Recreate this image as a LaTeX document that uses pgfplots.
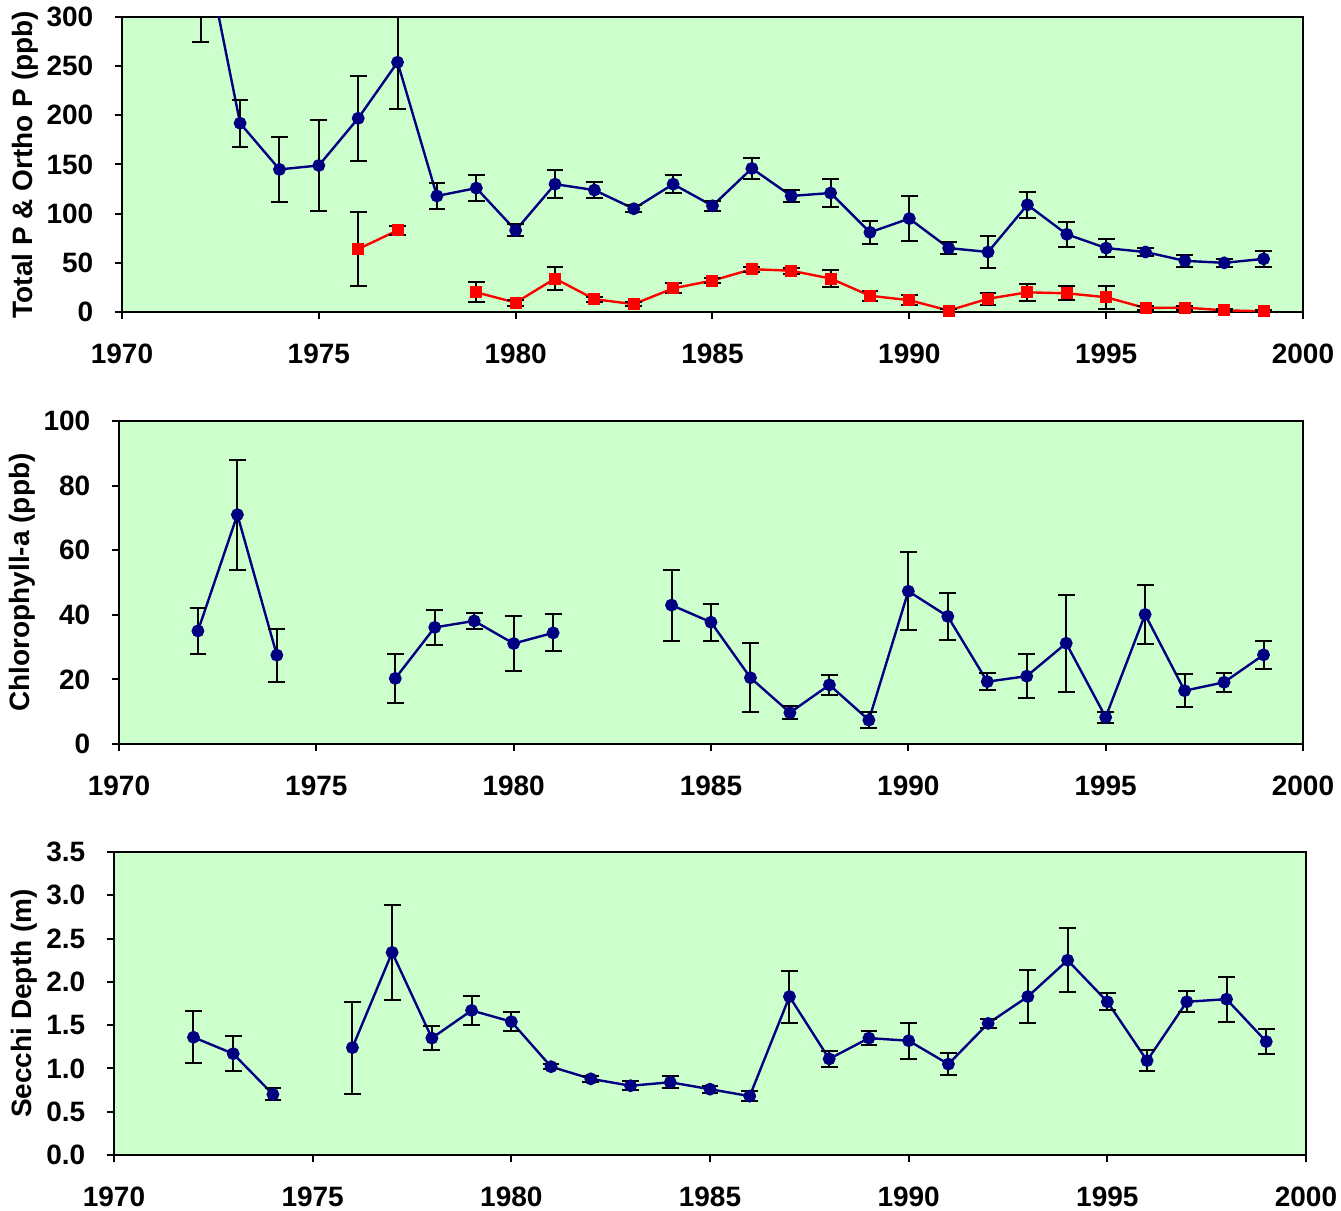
\documentclass[border=0pt]{standalone}
\usepackage{fontspec}
\setmainfont{Liberation Sans}
\usepackage{pgfplots}
\usepackage{pgfplotstable}
\pgfplotsset{compat=1.18}

\definecolor{plotbg}{HTML}{CCFFCC}
\definecolor{navyline}{HTML}{000080}
\definecolor{orthored}{HTML}{FF0000}

% Total phosphorus (ppb), annual mean and error
\pgfplotstableread{
year v e
1972 392 117
1973 192 24
1974 145 33
1975 149 46
1976 197 43
1977 254 48
1978 118 13
1979 126 13
1980 83 6
1981 130 14.5
1982 124 8
1983 105 3.5
1984 130 9
1985 108 5
1986 146 11
1987 118 6
1988 121 14.5
1989 81 12
1990 95 22.5
1991 65 6.5
1992 61 16
1993 109 13
1994 79 12.5
1995 65 9
1996 61 4
1997 52 6
1998 50 4.3
1999 54 7.8
}\totalp

% Ortho phosphorus (ppb)
\pgfplotstableread{
year v e
1976 64 38
1977 83 4.5
}\orthoA
\pgfplotstableread{
year v e
1979 20 10
1980 9.5 3
1981 34 12
1982 13 2.5
1983 8 2
1984 24 5
1985 32 3
1986 43.5 2.5
1987 42 3
1988 34 8.5
1989 16.5 5
1990 12 5
1991 1.5 1.5
1992 13.5 6.3
1993 20 8.7
1994 19 7.3
1995 15 11.5
1996 4 2
1997 4.5 2
1998 1.7 1
1999 0.7 1
}\orthoB

% Chlorophyll-a (ppb)
\pgfplotstableread{
year v e
1972 35 7.2
1973 71 17
1974 27.5 8.2
}\chlA
\pgfplotstableread{
year v e
1977 20.3 7.7
1978 36.1 5.3
1979 38.1 2.4
1980 31.1 8.5
1981 34.4 5.7
}\chlB
\pgfplotstableread{
year v e
1984 43 11
1985 37.7 5.7
1986 20.5 10.7
1987 9.7 2
1988 18.3 3
1989 7.4 2.6
1990 47.3 12
1991 39.5 7.4
1992 19.3 2.6
1993 21 6.8
1994 31.2 15
1995 8.3 1.7
1996 40.1 9.2
1997 16.5 5.2
1998 19.1 2.9
1999 27.6 4.3
}\chlC

% Secchi depth (m)
\pgfplotstableread{
year v e
1972 1.36 0.30
1973 1.17 0.20
1974 0.70 0.07
}\secA
\pgfplotstableread{
year v e
1976 1.24 0.53
1977 2.34 0.55
1978 1.35 0.14
1979 1.67 0.165
1980 1.54 0.11
1981 1.02 0.03
1982 0.88 0.035
1983 0.80 0.05
1984 0.84 0.07
1985 0.76 0.04
1986 0.68 0.06
1987 1.83 0.30
1988 1.11 0.09
1989 1.35 0.085
1990 1.32 0.21
1991 1.05 0.13
1992 1.52 0.05
1993 1.83 0.31
1994 2.25 0.37
1995 1.77 0.10
1996 1.09 0.12
1997 1.77 0.12
1998 1.80 0.26
1999 1.31 0.145
}\secB

\pgfplotsset{
  panel/.style={
    scale only axis,
    anchor=south west,
    axis background/.style={fill=plotbg},
    axis line style={line width=1.3pt},
    xmin=1970, xmax=2000,
    xtick={1970,1975,...,2000},
    tick pos=left,
    tick align=outside,
    major tick length=3.5pt,
    every tick/.style={black, line width=1pt},
    minor tick num=0,
    /pgf/number format/assume math mode=true,
    /pgf/number format/1000 sep={},
    xticklabel style={anchor=center, yshift=-17.5pt},
    yticklabel style={anchor=east, xshift=-6pt},
    clip=true,
  },
  series/.style={
    line width=1.2pt,
    error bars/y dir=both,
    error bars/y explicit,
    error bars/error bar style={black, line width=1pt, solid},
    error bars/error mark options={rotate=90, black, mark size=4.2pt, line width=1pt},
  },
  tp/.style={series, color=navyline, mark=*, mark size=2.6pt,
    mark options={fill=navyline, draw=navyline, solid}},
  op/.style={series, color=orthored, mark=square*, mark size=2.4pt,
    mark options={fill=orthored, draw=orthored, solid}},
}

\begin{document}
\fontsize{14}{16.8}\selectfont\bfseries
\begin{tikzpicture}
\useasboundingbox (0,0) rectangle (670.5pt,605.5pt);

% Phosphorus
\begin{axis}[panel,
  at={(61pt,449.5pt)}, width=590.5pt, height=147.5pt,
  ymin=0, ymax=300, ytick={0,50,...,300},
  ylabel={Total P \& Ortho P (ppb)},
  ylabel style={at={(axis description cs:-0.0821,0.5)}, anchor=center},
]
\addplot[tp] table[x=year, y=v, y error=e] {\totalp};
\addplot[op] table[x=year, y=v, y error=e] {\orthoA};
\addplot[op] table[x=year, y=v, y error=e] {\orthoB};
\end{axis}

% Chlorophyll-a
\begin{axis}[panel,
  at={(59.5pt,233.5pt)}, width=592pt, height=161.5pt,
  ymin=0, ymax=100, ytick={0,20,...,100},
  ylabel={Chlorophyll-a (ppb)},
  ylabel style={at={(axis description cs:-0.0819,0.5)}, anchor=center},
]
\addplot[tp] table[x=year, y=v, y error=e] {\chlA};
\addplot[tp] table[x=year, y=v, y error=e] {\chlB};
\addplot[tp] table[x=year, y=v, y error=e] {\chlC};
\end{axis}

% Secchi depth
\begin{axis}[panel,
  at={(57pt,28pt)}, width=596pt, height=151.5pt,
  ymin=0, ymax=3.5, ytick={0,0.5,...,3.5},
  yticklabel={\pgfmathprintnumber[fixed, fixed zerofill, precision=1]{\tick}},
  ylabel={Secchi Depth (m)},
  ylabel style={at={(axis description cs:-0.0755,0.5)}, anchor=center},
]
\addplot[tp] table[x=year, y=v, y error=e] {\secA};
\addplot[tp] table[x=year, y=v, y error=e] {\secB};
\end{axis}
\end{tikzpicture}
\end{document}
